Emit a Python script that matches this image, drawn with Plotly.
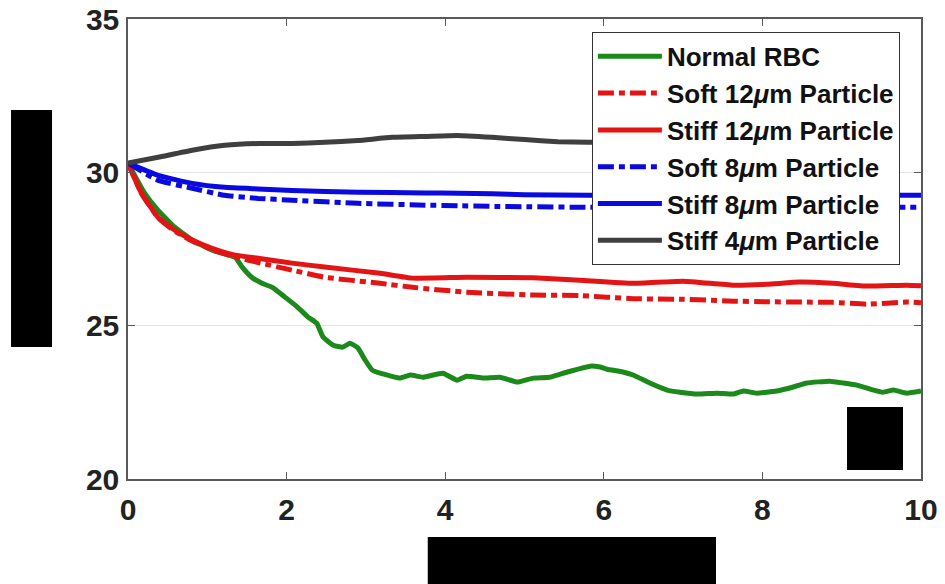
import plotly.graph_objects as go

# ---- data ----
t_rbc = [0.0, 0.21, 0.38, 0.59, 0.81, 1.06, 1.35, 1.44, 1.56, 1.69, 1.82, 1.98, 2.14, 2.27, 2.38,
         2.46, 2.59, 2.71, 2.80, 2.90, 2.99, 3.08, 3.18, 3.43, 3.56, 3.72, 3.97, 4.15, 4.27, 4.48,
         4.69, 4.91, 5.11, 5.32, 5.54, 5.83, 5.95, 6.04, 6.24, 6.37, 6.58, 6.80, 6.96, 7.18, 7.43,
         7.63, 7.76, 7.93, 8.18, 8.39, 8.56, 8.85, 9.02, 9.19, 9.36, 9.52, 9.65, 9.82, 10.0]
normal_rbc = [30.3, 29.32, 28.76, 28.21, 27.79, 27.46, 27.23, 26.91, 26.58, 26.38, 26.25, 25.93, 25.60,
              25.28, 25.08, 24.63, 24.36, 24.30, 24.43, 24.27, 23.88, 23.55, 23.45, 23.29, 23.39, 23.32,
              23.45, 23.22, 23.35, 23.29, 23.32, 23.16, 23.29, 23.32, 23.49, 23.68, 23.65, 23.58, 23.49,
              23.39, 23.13, 22.90, 22.83, 22.77, 22.80, 22.77, 22.87, 22.80, 22.87, 23.00, 23.13, 23.19,
              23.13, 23.06, 22.93, 22.83, 22.90, 22.80, 22.87]

t_12 = [0.0, 0.17, 0.38, 0.59, 0.81, 1.06, 1.35, 1.64, 2.07, 2.48, 3.18, 3.59, 4.27, 5.11, 5.70,
        6.37, 7.0, 7.63, 8.06, 8.47, 8.89, 9.32, 9.82, 10.0]
stiff_12 = [30.3, 29.32, 28.53, 28.11, 27.79, 27.52, 27.30, 27.20, 27.04, 26.91, 26.71, 26.55, 26.58,
            26.56, 26.48, 26.38, 26.45, 26.32, 26.35, 26.42, 26.38, 26.29, 26.32, 26.30]
soft_12 = [30.3, 29.32, 28.52, 28.08, 27.76, 27.48, 27.24, 27.06, 26.81, 26.58, 26.38, 26.25, 26.09,
           26.00, 25.98, 25.88, 25.86, 25.80, 25.78, 25.77, 25.76, 25.70, 25.77, 25.75]

t_8 = [0.0, 0.38, 0.81, 1.22, 1.64, 2.07, 2.90, 3.75, 4.16, 4.59, 5.0, 5.80, 7.0, 8.0, 9.0, 10.0]
stiff_8 = [30.3, 29.90, 29.64, 29.51, 29.46, 29.41, 29.35, 29.33, 29.32, 29.30, 29.27, 29.25, 29.24,
           29.24, 29.25, 29.25]
soft_8 = [30.3, 29.74, 29.48, 29.25, 29.15, 29.09, 28.99, 28.93, 28.91, 28.89, 28.88, 28.86, 28.86,
          28.86, 28.86, 28.86]

t_4 = [0.0, 0.38, 0.81, 1.22, 1.64, 2.07, 2.48, 2.90, 3.33, 3.75, 4.16, 4.59, 5.0, 5.42, 5.80, 7.0, 8.0, 9.0]
stiff_4 = [30.3, 30.49, 30.72, 30.88, 30.94, 30.94, 30.98, 31.04, 31.14, 31.17, 31.20, 31.14, 31.07,
           31.00, 30.98, 30.98, 30.98, 30.98]

x_ticks = [0, 2, 4, 6, 8, 10]
y_ticks = [20, 25, 30, 35]

GREEN = "#1b8a1b"
RED = "#e41414"
BLUE = "#0a0ae0"
GRAY = "#3f3f3f"
DASHDOT = "16px,5px,6px,5px"
LW = 5

series = [
    ("Normal RBC", t_rbc, normal_rbc, GREEN, "solid"),
    ("Soft 12<i>μ</i>m Particle", t_12, soft_12, RED, DASHDOT),
    ("Stiff 12<i>μ</i>m Particle", t_12, stiff_12, RED, "solid"),
    ("Soft 8<i>μ</i>m Particle", t_8, soft_8, BLUE, DASHDOT),
    ("Stiff 8<i>μ</i>m Particle", t_8, stiff_8, BLUE, "solid"),
    ("Stiff 4<i>μ</i>m Particle", t_4, stiff_4, GRAY, "solid"),
]

fig = go.Figure()
for i, (name, xs, ys, col, dash) in enumerate(series):
    fig.add_trace(go.Scatter(x=xs, y=ys, mode="lines", name=f"<b>{name}</b>", legendgroup=f"g{i}",
                             line=dict(color=col, width=LW, dash=dash, shape="spline", smoothing=0.4)))

axis_common = dict(showline=True, linecolor="#5a5a5a", linewidth=1.5, mirror="ticks",
                   ticks="inside", ticklen=7, tickcolor="#5a5a5a", tickwidth=1.2,
                   tickfont=dict(family="Liberation Sans, Arial, sans-serif", size=30, color="#222222"),
                   zeroline=False, automargin=False, ticklabeloverflow="allow")

fig.update_xaxes(range=[0, 10], tickvals=x_ticks, ticktext=[f"<b>{v}</b>" for v in x_ticks],
                 showgrid=False, ticklabelstandoff=3, **axis_common)
fig.update_yaxes(range=[20, 35], tickvals=y_ticks, ticktext=[f"<b>{v}</b>" for v in y_ticks],
                 showgrid=True, gridcolor="#e4e4e4", gridwidth=1, ticklabelstandoff=1, **axis_common)

black = dict(type="rect", xref="paper", yref="paper", fillcolor="black", line=dict(width=0), layer="above")
fig.add_shape(x0=-0.1475, x1=-0.0958, y0=0.287, y1=0.802, **black)
fig.add_shape(x0=0.378, x1=0.7415, y0=-0.228, y1=-0.126, **black)
fig.add_shape(x0=0.9067, x1=0.9773, y0=0.0196, y1=0.1565, **black)

fig.update_layout(
    width=945, height=584,
    margin=dict(l=128, r=24, t=19, b=105),
    paper_bgcolor="white", plot_bgcolor="white",
    showlegend=True,
    legend=dict(x=0.585, y=0.972, xanchor="left", yanchor="top",
                bgcolor="white", bordercolor="#333333", borderwidth=1,
                font=dict(family="Liberation Sans, Arial, sans-serif", size=26, color="#111111"),
                traceorder="grouped", tracegroupgap=0, itemwidth=64),
)

fig.write_html("out.html", config={"displayModeBar": False},
               post_script="document.body.style.margin='0';")
